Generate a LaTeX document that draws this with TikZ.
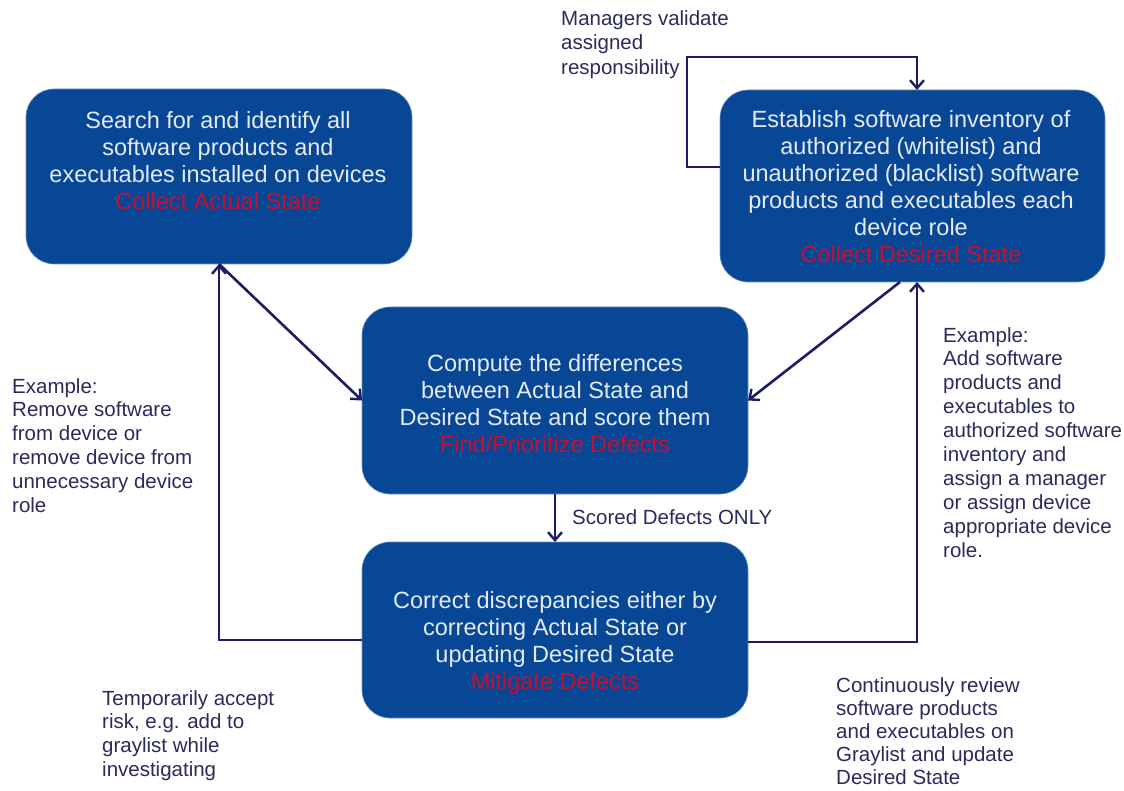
\documentclass[tikz,border=0pt]{standalone}
\usepackage{fontspec}
\setmainfont{Liberation Sans}
\usetikzlibrary{arrows.meta}
\definecolor{boxblue}{RGB}{8,70,150}
\definecolor{boxedge}{RGB}{110,145,200}
\definecolor{navy}{RGB}{28,28,100}
\definecolor{notecol}{RGB}{42,42,92}
\definecolor{boxtext}{RGB}{228,234,246}
\definecolor{redtxt}{RGB}{200,16,46}
\tikzset{
  procbox/.style={draw=boxedge, line width=0.6pt, fill=boxblue, rounded corners=28pt, inner sep=0pt, outer sep=0pt},
  boxtxt/.style={anchor=north, inner sep=0pt, align=center, text=boxtext, font=\fontsize{23.5}{27}\selectfont},
  notetxt/.style={anchor=north west, inner sep=0pt, align=left, text=notecol, font=\fontsize{20.5}{23.9}\selectfont},
  arr/.style={draw=navy, line width=2.6pt, -{Straight Barb[length=8pt,width=14pt,line width=2.4pt]}},
  redl/.style={text=redtxt}
}
\begin{document}
\begin{tikzpicture}[x=1pt,y=-1pt]
\useasboundingbox (0,0) rectangle (1124,791);
% boxes
\node[procbox, minimum width=386pt, minimum height=175pt] (A) at (219,176.5) {};
\node[procbox, minimum width=385pt, minimum height=192pt] (B) at (912.5,186) {};
\node[procbox, minimum width=386pt, minimum height=187pt] (C) at (555,400.5) {};
\node[procbox, minimum width=386pt, minimum height=176pt] (D) at (555,630) {};
% box texts
\node[boxtxt] (tA) at (218,111) {Search for and identify all\\software products and\\executables installed on devices\\\textcolor{redtxt}{Collect Actual State}};
\node[boxtxt] (tB) at (911,110) {Establish software inventory of\\authorized (whitelist) and\\unauthorized (blacklist) software\\products and executables each\\device role\\\textcolor{redtxt}{Collect Desired State}};
\node[boxtxt] (tC) at (555,354) {Compute the differences\\between Actual State and\\Desired State and score them\\\textcolor{redtxt}{Find/Prioritize Defects}};
\node[boxtxt] (tD) at (555,591) {Correct discrepancies either by\\correcting Actual State or\\updating Desired State\\\textcolor{redtxt}{Mitigate Defects}};
% notes
\node[notetxt, font=\fontsize{20.5}{24.8}\selectfont] (nM) at (561,10) {Managers validate\\assigned\\responsibility};
\node[notetxt] (nL) at (12,378) {Example:\\Remove software\\from device or\\remove device from\\unnecessary device\\role};
\node[notetxt] (nT) at (102,690) {Temporarily accept\\risk, e.g. add to\\graylist while\\investigating};
\node[notetxt] (nR) at (943,327) {Example:\\Add software\\products and\\executables to\\authorized software\\inventory and\\assign a manager\\or assign device\\appropriate device\\role.};
\node[notetxt, font=\fontsize{20.5}{23.2}\selectfont] (nC) at (836,677) {Continuously review\\software products\\and executables on\\Graylist and update\\Desired State};
\node[notetxt] (nS) at (572,509) {Scored Defects ONLY};
% coordinates for loop corners
\coordinate (mgl) at (687,57);
\coordinate (mgr) at (917,57);
% connectors
\draw[arr] (A.south) -- (C.west);
\draw[arr] ([xshift=-12.5pt]B.south) -- (C.east);
\draw[arr] (C.south) -- (D.north);
\draw[arr] ([yshift=-10pt]D.west) -| (A.south);
\draw[arr] ([yshift=-12pt]D.east) -| ([xshift=4.5pt]B.south);
\draw[arr] ([yshift=19pt]B.west) -| (mgl) -- (mgr) -- ([xshift=4.5pt]B.north);
\end{tikzpicture}
\end{document}
